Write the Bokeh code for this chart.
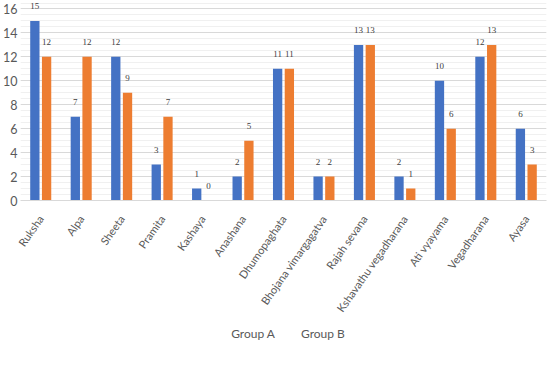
import math
from bokeh.plotting import figure
from bokeh.layouts import column
from bokeh.models import ColumnDataSource, Legend, LegendItem, FixedTicker, LabelSet
from bokeh.transform import dodge
from bokeh.embed import file_html
from bokeh.resources import INLINE

categories = ["Ruksha", "Alpa", "Sheeta", "Pramita", "Kashaya", "Anashana",
              "Dhumopaghata", "Bhojana vimargagatva", "Rajah sevana",
              "Kshavathu vegadharana", "Ati vyayama", "Vegadharana", "Ayasa"]
group_a = [15, 7, 12, 3, 1, 2, 11, 2, 13, 2, 10, 12, 6]
group_b = [12, 12, 9, 7, 0, 5, 11, 2, 13, 1, 6, 13, 3]
y_ticks = [0, 2, 4, 6, 8, 10, 12, 14, 16]

FONT = "Lato"
BLUE = "#4472C4"
ORANGE = "#ED7D31"
GREY = "#595959"

src = ColumnDataSource(dict(cat=categories, a=group_a, b=group_b,
                            la=[str(v) for v in group_a],
                            lb=[str(v) for v in group_b]))

p = figure(x_range=categories, y_range=(0, 16.71),
           frame_width=526, frame_height=200,
           output_backend="svg", toolbar_location=None,
           min_border_left=20, min_border_right=4, min_border_top=0,
           min_border_bottom=0)
p.outline_line_color = None
p.background_fill_color = "white"

ra = p.vbar(x=dodge("cat", -0.145, range=p.x_range), top="a", width=0.23,
            source=src, fill_color=BLUE, line_color=None)
rb = p.vbar(x=dodge("cat", 0.145, range=p.x_range), top="b", width=0.23,
            source=src, fill_color=ORANGE, line_color=None)

for col, off, ycol in (("la", -0.145, "a"), ("lb", 0.145, "b")):
    p.add_layout(LabelSet(x=dodge("cat", off, range=p.x_range), y=ycol, text=col,
                          source=src, text_align="center", text_baseline="middle",
                          y_offset=15, text_font=FONT, text_font_size="9px",
                          text_color="#404040"))

p.yaxis.ticker = FixedTicker(ticks=y_ticks, minor_ticks=[i * 0.5 for i in range(34)])
p.yaxis.axis_line_color = None
p.yaxis.major_tick_line_color = None
p.yaxis.minor_tick_line_color = None
p.yaxis.major_tick_out = 0
p.yaxis.minor_tick_out = 0
p.yaxis.major_label_text_font = FONT
p.yaxis.major_label_text_font_size = "12.5px"
p.yaxis.major_label_text_color = GREY
p.yaxis.major_label_standoff = 3

p.xaxis.axis_line_color = "#d9d9d9"
p.xaxis.major_tick_line_color = None
p.xaxis.major_tick_out = 0
p.xaxis.major_label_orientation = math.radians(55)
p.xaxis.major_label_text_font = FONT
p.xaxis.major_label_text_font_size = "11px"
p.xaxis.major_label_text_color = GREY
p.xaxis.major_label_standoff = 16

p.xgrid.grid_line_color = None
p.ygrid.grid_line_color = "#d9d9d9"
p.ygrid.minor_grid_line_color = "#f0f0f0"

# legend strip underneath the chart
lg = figure(width=550, height=24, output_backend="svg", toolbar_location=None,
            x_axis_location=None, y_axis_location=None,
            min_border_left=0, min_border_right=0, min_border_top=0,
            min_border_bottom=0)
lg.outline_line_color = None
lg.grid.visible = False
la_r = lg.vbar(x=[], top=[], width=0.2, fill_color=BLUE, line_color=None)
lb_r = lg.vbar(x=[], top=[], width=0.2, fill_color=ORANGE, line_color=None)
legend = Legend(items=[LegendItem(label="Group A", renderers=[la_r]),
                       LegendItem(label="Group B", renderers=[lb_r])],
                orientation="horizontal", location="top_center",
                label_text_font=FONT, label_text_font_size="12px",
                label_text_color=GREY, glyph_width=7, glyph_height=8,
                spacing=16, label_standoff=3, padding=0, margin=6,
                label_height=12,
                border_line_color=None, background_fill_alpha=0)
lg.add_layout(legend, "center")

layout = column(p, lg, spacing=0)
open("out.html", "w").write(file_html(layout, INLINE))
